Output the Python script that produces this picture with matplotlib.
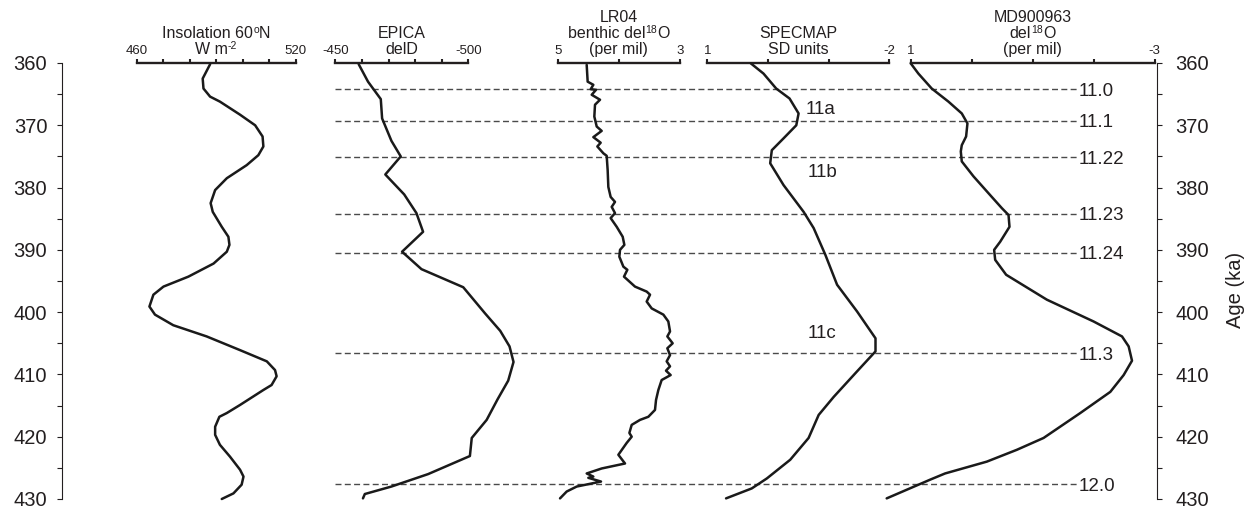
import numpy as np
import matplotlib
matplotlib.use("Agg")
import matplotlib.pyplot as plt
from matplotlib.ticker import MultipleLocator
from matplotlib.transforms import blended_transform_factory, IdentityTransform

plt.rcParams['font.family'] = ['Liberation Sans', 'DejaVu Sans']
plt.rcParams['axes.unicode_minus'] = False

# ---------------- data ----------------
ins_age = [360.2, 362.5, 364.1, 365.4, 366.2, 368.3, 370.0, 371.8, 373.4, 374.8, 376.4,
           378.5, 380.4, 382.5, 383.9, 386.3, 387.9, 389.2, 390.3, 392.2, 394.3, 395.9,
           397.2, 399.1, 400.4, 402.1, 403.9, 406.1, 407.9, 409.3, 410.3, 411.7, 412.5,
           414.9, 416.2, 416.8, 418.4, 419.7, 421.3, 423.2, 425.3, 426.4, 427.7, 429.1, 430.0]
ins_val = [487.7, 484.9, 485.2, 487.7, 491.4, 499.0, 504.7, 507.5, 507.8, 505.9, 501.5,
           494.0, 489.6, 487.9, 488.7, 492.1, 494.6, 495.0, 494.0, 489.0, 479.5, 470.1,
           466.3, 464.8, 466.9, 473.8, 486.4, 499.0, 509.1, 512.2, 512.8, 510.9, 507.8,
           499.0, 494.0, 491.2, 489.6, 489.6, 491.4, 495.2, 499.0, 500.3, 499.6, 496.5, 492.1]

epica_age = [360.2, 363.0, 365.8, 368.9, 372.5, 375.0, 377.9, 381.1, 384.1, 387.1, 390.3,
             393.1, 396.0, 400.2, 403.0, 405.5, 408.0, 411.0, 414.0, 417.3, 420.2, 423.1,
             426.0, 428.0, 429.2, 429.9]
epica_val = [-458.8, -462.3, -467.1, -467.6, -471.1, -474.6, -468.8, -475.9, -480.5, -483.0,
             -475.1, -482.4, -498.1, -506.3, -512.0, -515.5, -517.0, -515.0, -511.0, -506.9,
             -501.3, -500.6, -484.9, -471.1, -461.1, -460.4]

lr04_age = [360.3, 363.0, 363.5, 364.2, 364.3, 365.1, 365.9, 366.7, 368.6, 370.2, 370.9,
            371.9, 372.8, 373.4, 374.5, 374.9, 377.2, 379.9, 381.5, 382.3, 383.1, 384.1,
            384.9, 386.3, 387.9, 389.2, 390.0, 391.1, 392.7, 393.2, 394.3, 395.9, 396.7,
            397.2, 398.3, 399.4, 400.4, 401.5, 403.1, 403.9, 405.0, 405.8, 406.9, 407.9,
            408.7, 409.4, 410.1, 410.9, 412.5, 414.1, 415.7, 416.8, 417.3, 418.1, 419.4,
            420.0, 421.0, 422.9, 424.3, 425.1, 425.9, 426.4, 426.6, 427.2, 428.0, 428.8, 429.9]
lr04_val = [4.526, 4.510, 4.417, 4.460, 4.373, 4.444, 4.308, 4.390, 4.401, 4.362, 4.281,
            4.417, 4.297, 4.352, 4.253, 4.199, 4.183, 4.172, 4.134, 4.063, 4.117, 4.063,
            4.134, 4.035, 3.937, 3.910, 3.981, 3.992, 3.926, 3.861, 3.916, 3.736, 3.545,
            3.490, 3.545, 3.463, 3.272, 3.191, 3.163, 3.207, 3.120, 3.207, 3.163, 3.218,
            3.163, 3.229, 3.153, 3.300, 3.354, 3.392, 3.409, 3.518, 3.654, 3.790, 3.828,
            3.790, 3.872, 4.008, 3.899, 4.281, 4.526, 4.417, 4.499, 4.292, 4.689, 4.853, 4.962]

spec_age = [360.05, 361.7, 364.1, 365.7, 368.1, 370.0, 372.1, 374.0, 376.1, 379.6, 383.9,
            386.5, 390.8, 395.6, 399.9, 404.2, 406.3, 409.5, 413.6, 416.5, 420.2, 423.7,
            426.7, 428.3, 429.9]
spec_val = [0.284, 0.074, -0.135, -0.355, -0.504, -0.466, -0.256, -0.063, -0.036, -0.256,
            -0.587, -0.752, -0.945, -1.138, -1.468, -1.771, -1.771, -1.468, -1.083, -0.835,
            -0.669, -0.366, 0.019, 0.267, 0.691]

md_age = [360.05, 361.7, 364.1, 366.2, 368.1, 369.7, 371.8, 373.2, 374.2, 375.8, 378.2,
          381.2, 383.3, 384.4, 386.3, 388.7, 390.0, 391.6, 394.0, 398.0, 401.5, 403.9,
          405.5, 407.8, 410.1, 412.8, 416.2, 420.2, 422.1, 424.0, 425.9, 426.9, 429.9]
md_val = [1.0, 0.874, 0.655, 0.381, 0.162, 0.069, 0.091, 0.162, 0.178, 0.162, -0.030,
          -0.303, -0.495, -0.605, -0.621, -0.468, -0.369, -0.386, -0.566, -1.234, -2.001,
          -2.467, -2.576, -2.631, -2.494, -2.275, -1.782, -1.180, -0.742, -0.249, 0.436,
          0.682, 1.394]

event_ages = [364.2, 369.3, 375.1, 384.2, 390.5, 406.6, 427.6]
event_labels = ['11.0', '11.1', '11.22', '11.23', '11.24', '11.3', '12.0']

stage_labels = ['11a', '11b', '11c']
stage_ages = [367.2, 377.2, 403.1]
stage_vals = [-0.86, -0.89, -0.89]

# panel titles: each line is a list of (text, is_superscript)
titles = [
    [[('Insolation 60', False), ('o', True), ('N', False)], [('W m', False), ('-2', True)]],
    [[('EPICA', False)], [('delD', False)]],
    [[('LR04', False)], [('benthic del', False), ('18', True), ('O', False)], [('(per mil)', False)]],
    [[('SPECMAP', False)], [('SD units', False)]],
    [[('MD900963', False)], [('del', False), ('18', True), ('O', False)], [('(per mil)', False)]],
]

# ---------------- layout ----------------
W, H = 1251, 509
fig = plt.figure(figsize=(W / 100, H / 100), dpi=100)
TOP, BOT = 63, 499
INK = '#231f20'


def px_axes(x0, x1):
    return fig.add_axes([x0 / W, 1 - BOT / H, (x1 - x0) / W, (BOT - TOP) / H])


# main age axis (left)
ax = px_axes(62, 1157)
ax.set_xlim(0, 1)
ax.set_ylim(430, 360)
ax.patch.set_visible(False)
for s in ['top', 'bottom', 'right']:
    ax.spines[s].set_visible(False)
ax.spines['left'].set_linewidth(0.8)
ax.spines['left'].set_color(INK)
ax.set_xticks([])
ax.yaxis.set_major_locator(MultipleLocator(10))
ax.yaxis.set_minor_locator(MultipleLocator(5))
ax.tick_params(axis='y', which='both', direction='out', length=3.6, width=0.8,
               colors=INK, labelsize=14.5, pad=7)

# right age axis
axr = px_axes(62, 1157)
axr.set_xlim(0, 1)
axr.set_ylim(430, 360)
axr.patch.set_visible(False)
for s in ['top', 'bottom', 'left']:
    axr.spines[s].set_visible(False)
axr.spines['right'].set_linewidth(0.8)
axr.spines['right'].set_color(INK)
axr.set_xticks([])
axr.yaxis.tick_right()
axr.yaxis.set_label_position('right')
axr.yaxis.set_major_locator(MultipleLocator(10))
axr.yaxis.set_minor_locator(MultipleLocator(5))
axr.tick_params(axis='y', which='both', direction='out', length=3.6, width=0.8,
                colors=INK, labelsize=14.5, pad=9.5)
axr.set_ylabel('Age (ka)', fontsize=14.5, color=INK)
axr.yaxis.set_label_coords((1226 - 62) / 1095, 1 - (290 - TOP) / (BOT - TOP))

# dashed event lines and labels
x_start = (335 - 62) / 1095
x_end = (1077 - 62) / 1095
x_lab = (1079 - 62) / 1095
btr = blended_transform_factory(ax.transAxes, ax.transData)
for a, lab in zip(event_ages, event_labels):
    ax.plot([x_start, x_end], [a, a], transform=btr, color='#4a4a4a', lw=1.0,
            linestyle=(0, (4.3, 2.4)), zorder=1)
    ax.text(x_lab, a, lab, transform=btr, ha='left', va='center_baseline',
            fontsize=13.5, color=INK)

# panels: (x0 px, x1 px, left value, right value, tick step)
panel_layout = [
    (136.7, 295.7, 460, 520, 10),
    (335.3, 468.3, -450, -500, -10),
    (557.7, 680.0, 5, 3, -1),
    (707.3, 889.4, 1, -2, -1),
    (910.7, 1154.5, 1, -3, -1),
]
series = [(ins_val, ins_age), (epica_val, epica_age), (lr04_val, lr04_age),
          (spec_val, spec_age), (md_val, md_age)]

renderer = fig.canvas.get_renderer()


def title_line(pa, parts, y_off):
    objs = []
    for txt, sup in parts:
        t = fig.text(0, 0, txt, fontsize=7.5 if sup else 11.5, color=INK,
                     ha='left', va='baseline', transform=IdentityTransform())
        objs.append((t, sup))
    widths = [t.get_window_extent(renderer).width for t, _ in objs]
    cx, cy = pa.transAxes.transform((0.5, 1.0))
    x = cx - sum(widths) / 2
    for (t, sup), w in zip(objs, widths):
        t.set_position((x, cy + y_off + (4.6 if sup else 0)))
        x += w


panel_axes = []
for (x0, x1, lo, hi, step), (vals, ages), title in zip(panel_layout, series, titles):
    pa = px_axes(x0, x1)
    pa.set_xlim(lo, hi)
    pa.set_ylim(430, 360)
    pa.patch.set_visible(False)
    for s in ['bottom', 'left', 'right']:
        pa.spines[s].set_visible(False)
    pa.spines['top'].set_linewidth(1.7)
    pa.spines['top'].set_color(INK)
    pa.set_yticks([])
    pa.xaxis.tick_top()
    ticks = np.arange(lo, hi + step * 0.5, step)
    pa.set_xticks(ticks)
    labels = [''] * len(ticks)
    labels[0] = f'{lo:g}'
    labels[-1] = f'{hi:g}'
    pa.set_xticklabels(labels)
    pa.tick_params(axis='x', direction='out', length=3.0, width=1.5, colors=INK,
                   labelsize=9.5, pad=1.2)
    pa.plot(vals, ages, color='#1a1a1a', lw=1.8, clip_on=False, zorder=3,
            solid_joinstyle='round', solid_capstyle='round')
    for i, line in enumerate(reversed(title)):
        title_line(pa, line, 9 + 16 * i)
    panel_axes.append(pa)

spec_ax = panel_axes[3]
for lab, a, v in zip(stage_labels, stage_ages, stage_vals):
    spec_ax.text(v, a, lab, ha='center', va='center_baseline', fontsize=13.5, color=INK)

fig.savefig('out.png', dpi=100)
